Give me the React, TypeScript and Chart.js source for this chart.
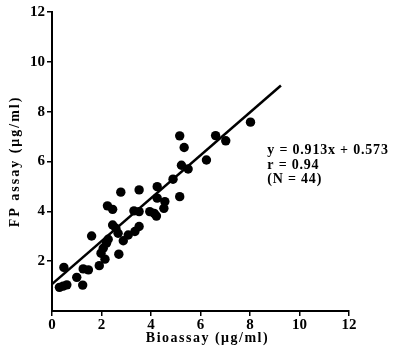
import React, { useEffect, useRef } from "react";
import { Chart, registerables } from "chart.js";

Chart.register(...registerables);

const bioassay = [0.3, 0.45, 0.6, 0.48, 1.0, 1.24, 1.26, 1.47, 1.6, 1.91, 2.14, 1.98, 2.07, 2.2, 2.27, 2.24, 2.45, 2.45, 2.58, 2.67, 2.7, 2.78, 2.88, 3.08, 3.31, 3.35, 3.52, 3.52, 3.52, 3.95, 4.13, 4.22, 4.25, 4.56, 4.52, 4.25, 4.89, 5.16, 5.23, 5.5, 5.16, 5.34, 6.24, 6.61, 7.02, 8.02];
const fpAssay = [0.95, 1.0, 1.05, 1.75, 1.35, 1.04, 1.69, 1.65, 3.01, 1.82, 2.08, 2.32, 2.52, 2.72, 2.88, 4.22, 4.08, 3.45, 3.32, 3.12, 2.28, 4.77, 2.82, 3.05, 4.02, 3.19, 3.39, 4.86, 3.99, 3.99, 3.92, 3.81, 4.99, 4.39, 4.12, 4.53, 5.29, 4.59, 5.85, 5.7, 7.03, 6.56, 6.06, 7.04, 6.83, 7.58];

const fitX = [0, 9.25];
const fitY = [1.08, 9.05];

const xTicks = [0, 2, 4, 6, 8, 10, 12];
const yTicks = [2, 4, 6, 8, 10, 12];

const xTitle = "Bioassay (μg/ml)";
const yTitle = "FP assay (μg/ml)";
const annotationLines = ["y = 0.913x + 0.573", "r = 0.94", "(N = 44)"];
const annotationAnchor = { x: 8.7, y: 6.43 };

const SERIF = "'Liberation Serif', 'DejaVu Serif', serif";

const textPlugin = {
  id: "texts",
  afterDraw(chart: any) {
    const ctx = chart.ctx;
    const area = chart.chartArea;
    ctx.save();
    ctx.fillStyle = "#000";
    // annotation
    const ax = chart.scales.x.getPixelForValue(annotationAnchor.x);
    const ay = chart.scales.y.getPixelForValue(annotationAnchor.y);
    ctx.font = `bold 14px ${SERIF}`;
    (ctx as any).letterSpacing = "0.8px";
    ctx.textAlign = "left";
    ctx.textBaseline = "middle";
    annotationLines.forEach((t, i) => {
      ctx.fillText(t, ax, ay + i * 14.3);
    });
    // axis titles
    ctx.font = `bold 14px ${SERIF}`;
    (ctx as any).letterSpacing = "1.5px";
    ctx.textAlign = "center";
    ctx.fillText(xTitle, (area.left + area.right) / 2 + 7, 338);
    (ctx as any).letterSpacing = "2px";
    ctx.translate(15, (area.top + area.bottom) / 2);
    ctx.rotate(-Math.PI / 2);
    ctx.fillText(yTitle, 0, 0);
    ctx.restore();
  },
};

export default function App() {
  const ref = useRef<HTMLCanvasElement | null>(null);
  useEffect(() => {
    if (!ref.current) return;
    const chart = new Chart(ref.current, {
      type: "scatter",
      data: {
        datasets: [
          {
            type: "scatter",
            data: bioassay.map((v, i) => ({ x: v, y: fpAssay[i] })),
            backgroundColor: "#000",
            borderColor: "#000",
            borderWidth: 0,
            pointRadius: 4.7,
          },
          {
            type: "line",
            data: fitX.map((v, i) => ({ x: v, y: fitY[i] })),
            borderColor: "#000",
            borderWidth: 2.5,
            pointRadius: 0,
            fill: false,
          } as any,
        ],
      },
      options: {
        animation: false,
        responsive: true,
        maintainAspectRatio: false,
        layout: { padding: { left: 0, top: 12, right: 45, bottom: 0 } },
        plugins: { legend: { display: false }, tooltip: { enabled: false } },
        scales: {
          x: {
            type: "linear",
            min: 0,
            max: 12,
            afterBuildTicks: (s: any) => {
              s.ticks = xTicks.map((v) => ({ value: v }));
            },
            afterFit: (s: any) => {
              s.height = 39;
            },
            grid: { display: true, drawOnChartArea: false, drawTicks: true, tickLength: 5, color: "#000", lineWidth: 1.5 },
            border: { display: true, color: "#000", width: 2 },
            ticks: { color: "#000", font: { family: SERIF, size: 15, weight: "bold" }, padding: 0, maxRotation: 0 },
          },
          y: {
            type: "linear",
            min: 0,
            max: 12,
            afterBuildTicks: (s: any) => {
              s.ticks = yTicks.map((v) => ({ value: v }));
            },
            afterFit: (s: any) => {
              s.width = 52;
            },
            grid: { display: true, drawOnChartArea: false, drawTicks: true, tickLength: 5, color: "#000", lineWidth: 1.5 },
            border: { display: true, color: "#000", width: 2 },
            ticks: { color: "#000", font: { family: SERIF, size: 15, weight: "bold" }, padding: 2 },
          },
        },
      },
      plugins: [textPlugin],
    });
    return () => chart.destroy();
  }, []);
  return (
    <div style={{ position: "fixed", left: 0, top: 0, width: 394, height: 350, background: "#fff" }}>
      <canvas ref={ref} />
    </div>
  );
}
